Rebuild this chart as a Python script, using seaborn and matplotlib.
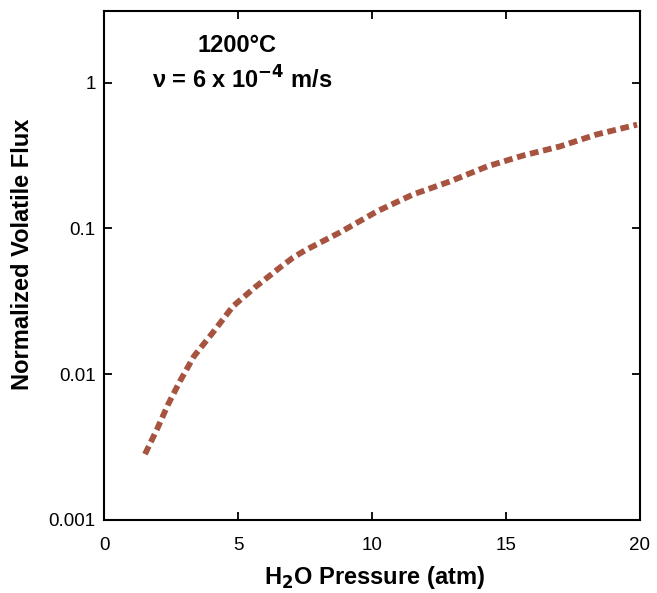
import matplotlib
matplotlib.use("Agg")
import matplotlib.pyplot as plt
import seaborn as sns
import pandas as pd
from matplotlib.ticker import FixedLocator, FixedFormatter, NullLocator

# Data
pressure = [1.53, 1.98, 2.39, 2.84, 3.36, 4.07, 4.81, 5.63, 6.57, 7.05, 7.5, 8.81,
            10.19, 11.53, 12.91, 14.29, 15.63, 17.01, 18.36, 19.89]
flux = [0.00283, 0.0042, 0.0062, 0.0090, 0.0133, 0.0194, 0.0292, 0.0394, 0.054, 0.063,
        0.0707, 0.094, 0.131, 0.171, 0.210, 0.266, 0.316, 0.365, 0.440, 0.515]
x_ticks = [0, 5, 10, 15, 20]
y_ticks = [0.001, 0.01, 0.1, 1]
y_tick_labels = ["0.001", "0.01", "0.1", "1"]

sns.set_style("ticks")
plt.rcParams['font.family'] = ['Liberation Sans', 'DejaVu Sans']
plt.rcParams['text.color'] = 'black'
plt.rcParams['axes.labelcolor'] = 'black'

fig = plt.figure(figsize=(6.57, 5.93), dpi=100)
ax = fig.add_axes([104/657, 1-520/593, (640-104)/657, (520-11)/593])

df = pd.DataFrame({"p": pressure, "f": flux})
sns.lineplot(data=df, x="p", y="f", ax=ax, color="#A65440", linewidth=4.2)
ax.lines[0].set_dashes([1.5, 0.8])
ax.lines[0].set_dash_capstyle("butt")

ax.set_yscale("log")
ax.set_xlim(0, 20)
ax.set_ylim(0.001, 3.1)
ax.xaxis.set_major_locator(FixedLocator(x_ticks))
ax.yaxis.set_major_locator(FixedLocator(y_ticks))
ax.yaxis.set_major_formatter(FixedFormatter(y_tick_labels))
ax.yaxis.set_minor_locator(NullLocator())
ax.tick_params(direction="in", length=6, width=1.3, top=True, right=True,
               labelsize=13.5, colors="black")
ax.tick_params(axis="x", pad=12)
ax.tick_params(axis="y", pad=6)
for s in ax.spines.values():
    s.set_linewidth(1.5)
    s.set_color("black")

ax.set_xlabel(r"H$_\mathbf{2}$O Pressure (atm)", fontsize=17, fontweight="bold",
              color="black", ha="center", va="top")
ax.xaxis.set_label_coords((374-104)/536, (520-564)/509)
ax.set_ylabel("Normalized Volatile Flux", fontsize=17, fontweight="bold",
              color="black", va="center", ha="center")
ax.yaxis.set_label_coords((23-104)/536, (520-254)/509)

fig.text(237/657, 1-45/593, "1200°C", ha="center", va="center",
         fontsize=17, fontweight="bold", color="black")
fig.text(242/657, 1-80/593, r"ν = 6 x 10$^{\mathbf{-4}}$ m/s",
         ha="center", va="center", fontsize=17, fontweight="bold", color="black")

fig.savefig("out.png", dpi=100)
